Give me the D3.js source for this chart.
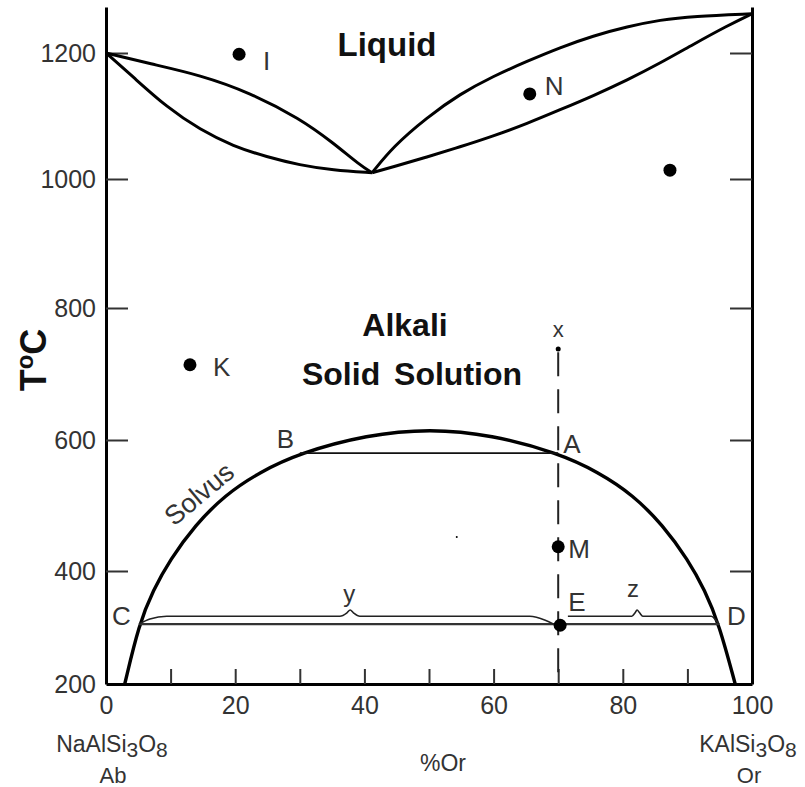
<!DOCTYPE html>
<html><head><meta charset="utf-8">
<script src="https://cdn.jsdelivr.net/npm/d3@7"></script>
<style>
body{margin:0;background:#fff}
svg{display:block}
text{font-family:"Liberation Sans",Arial,Helvetica,sans-serif}
</style>
</head><body>
<svg id="chart" width="805" height="787"></svg>
<script>
// ---------- data ----------
const xTicks = [0,10,20,30,40,50,60,70,80,90,100];
const xTickLabels = [0,20,40,60,80,100];
const yTicks = [200,400,600,800,1000,1200];

const liquidusLeft  = [[0,1200],[6.8,1183],[14.6,1165],[22.3,1137],[30,1096],[35.1,1058],[39.3,1022],[41.2,1010]];
const solidusLeft   = [[0,1200],[4.2,1162],[9.4,1114],[14.6,1078],[19.7,1052],[24.9,1035],[30,1022],[35.1,1014],[41.2,1010]];
const liquidusRight = [[41.2,1010],[44.4,1051],[49.7,1098],[54.8,1135],[59.9,1163],[65.2,1187],[70.3,1209],[75.4,1228],[80.7,1243],[85.8,1254],[90.9,1260],[100,1264]];
const solidusRight  = [[41.2,1010],[44.4,1019],[49.7,1035],[54.8,1051],[59.9,1068],[65.2,1088],[70.3,1110],[75.4,1132],[80.7,1157],[85.8,1184],[90.9,1214],[96.1,1244],[100,1264]];
const solvus = [[2.9,200],[5.1,306],[7.3,366],[9.9,417],[13.8,470],[18.4,516],[23.8,551],[30,580],[40.4,608],[50.2,617],[59.6,608],[70,580],[76.2,551],[81.6,516],[86.2,470],[90.1,417],[92.7,366],[94.9,306],[97.4,200]];
const tieLineBA = [[30,580],[70,580]];
const tieLineCD = [[5.1,306],[94.9,306]];
const braceY = [[5.1,306],[6.8,315],[9.4,320],[36.2,320],[37.3,326],[37.8,331],[38.3,326],[39.3,320],[65.6,320],[68,313],[69.3,306]];
const braceZ = [[71.5,320],[81.4,320],[81.9,326],[82.2,331],[82.6,326],[83.1,320],[93.7,320],[94.4,313],[94.9,306]];
const isopleth = [[70,733],[70,200]];

const pointNames = ["I","N","","K","M","E","x",""];
const pointComp  = [20.6,65.6,87.3,13.0,70,70.3,70,54.3];
const pointTemp  = [1198,1135,1014,714,437,304,738,452];

const curveLabels = ["A","B","C","D","y","z"];
const curveLabelComp = [70,30,5.1,94.9,37.8,82.2];
const curveLabelTemp = [580,580,306,306,331,331];

// ---------- style / layout ----------
const pointRadius = [6.5,6.5,6.5,6.5,6.5,6.5,2.5,1];
const pointLabelOffset = [[24,16],[15,1],[0,0],[23,11],[10,11],[8,-14],[0,-12],[0,0]];
const curveLabelOffset = [[5,0],[-23,-5],[-27,1],[8,1],[-7,-8],[-10,-13]];

const svg = d3.select("#chart");
const x = d3.scaleLinear().domain([0,100]).range([106,752]);
const y = d3.scaleLinear().domain([200,400,600,800,1000,1200,1275]).range([684,571,440,308,179,53,7]);

const line = d3.line().x(d=>x(d[0])).y(d=>y(d[1]));
const smooth = d3.line().x(d=>x(d[0])).y(d=>y(d[1])).curve(d3.curveBasis);
const mono = d3.line().x(d=>x(d[0])).y(d=>y(d[1])).curve(d3.curveMonotoneX);

// axes
const gL = svg.append("g").attr("transform",`translate(${x(0)},0)`)
  .call(d3.axisLeft(y).tickValues(yTicks).tickSize(-22).tickSizeOuter(0).tickPadding(10).tickFormat(d3.format("d")));
const gR = svg.append("g").attr("transform",`translate(${x(100)},0)`)
  .call(d3.axisRight(y).tickValues(yTicks.slice(1)).tickSize(-22).tickSizeOuter(0).tickFormat(""));
const gB = svg.append("g").attr("transform",`translate(0,${y(200)})`)
  .call(d3.axisBottom(x).tickValues(xTicks).tickSize(-15).tickSizeOuter(0).tickPadding(12)
    .tickFormat(d=>xTickLabels.includes(d)?d:""));
[gL,gR,gB].forEach(g=>{
  g.select(".domain").attr("stroke","#000").attr("stroke-width",3);
  g.selectAll(".tick line").attr("stroke","#333").attr("stroke-width",2);
  g.selectAll(".tick text").attr("fill","#333").attr("font-size",25).attr("font-family",null);
});
gB.selectAll(".tick").filter(d=>d===0||d===100).select("line").remove();
gL.selectAll(".tick").filter(d=>d===200).select("line").remove();

// curves
const thick = [liquidusLeft,solidusLeft,liquidusRight,solidusRight];
svg.append("g").selectAll("path").data(thick).join("path")
  .attr("d",smooth).attr("fill","none").attr("stroke","#000").attr("stroke-width",3);
svg.append("path").attr("d",smooth(solvus)).attr("fill","none").attr("stroke","#000").attr("stroke-width",3.4);

svg.append("path").attr("d",line(tieLineBA)).attr("fill","none").attr("stroke","#111").attr("stroke-width",1.6);
svg.append("path").attr("d",line(tieLineCD)).attr("fill","none").attr("stroke","#333").attr("stroke-width",2.2);
[braceY,braceZ].forEach(b=>svg.append("path").attr("d",mono(b)).attr("fill","none").attr("stroke","#222").attr("stroke-width",1.6));

svg.append("path").attr("d",line(isopleth)).attr("fill","none").attr("stroke","#222")
  .attr("stroke-width",2).attr("stroke-dasharray","24,13");

// points
const pts = pointNames.map((n,i)=>({n,cx:pointComp[i],t:pointTemp[i],r:pointRadius[i],o:pointLabelOffset[i]}));
svg.append("g").selectAll("circle").data(pts).join("circle")
  .attr("cx",d=>x(d.cx)).attr("cy",d=>y(d.t)).attr("r",d=>d.r).attr("fill","#000");
svg.append("g").selectAll("text").data(pts.filter(d=>d.n)).join("text")
  .attr("x",d=>x(d.cx)+d.o[0]).attr("y",d=>y(d.t)+d.o[1])
  .attr("text-anchor",d=>d.n==="x"?"middle":"start")
  .attr("font-size",d=>d.n==="x"?22:26).attr("fill","#333").text(d=>d.n);

// curve labels
svg.append("g").selectAll("text").data(curveLabels).join("text")
  .attr("x",(d,i)=>x(curveLabelComp[i])+curveLabelOffset[i][0])
  .attr("y",(d,i)=>y(curveLabelTemp[i])+curveLabelOffset[i][1])
  .attr("font-size",(d)=>(d==="y"||d==="z")?24:26).attr("fill","#333").text(d=>d);

// Solvus label
svg.append("text").attr("transform",`translate(205,501) rotate(-40)`)
  .attr("text-anchor","middle").attr("font-size",27).attr("fill","#333").text("Solvus");

// region labels
svg.append("text").attr("x",387).attr("y",56).attr("text-anchor","middle")
  .attr("font-size",33).attr("font-weight","bold").attr("fill","#111").text("Liquid");
svg.append("text").attr("x",405).attr("y",336).attr("text-anchor","middle")
  .attr("font-size",32).attr("font-weight","bold").attr("fill","#111").text("Alkali");
svg.append("text").attr("x",412).attr("y",385).attr("text-anchor","middle").attr("word-spacing",5)
  .attr("font-size",32).attr("font-weight","bold").attr("fill","#111").text("Solid Solution");

// y-axis title T°C
const tt = svg.append("text").attr("transform","translate(46,360) rotate(-90)")
  .attr("text-anchor","middle").attr("font-size",36).attr("font-weight","bold").attr("fill","#111");
tt.append("tspan").text("T");
tt.append("tspan").attr("dy",-13).attr("font-size",24).text("o");
tt.append("tspan").attr("dy",13).text("C");

// x-axis end-member labels
function formula(parts, cx, by){
  const t = svg.append("text").attr("x",cx).attr("y",by).attr("text-anchor","middle")
    .attr("font-size",23).attr("fill","#333");
  parts.forEach(p=>{
    const s = t.append("tspan").attr("dy",p[1]?5:(p[2]?-5:0)).text(p[0]);
    if(p[1]) s.attr("font-size",21);
  });
}
formula([["NaAlSi",0],["3",1],["O",0,1],["8",1]],112,752);
formula([["KAlSi",0],["3",1],["O",0,1],["8",1]],748,752);
svg.append("text").attr("x",113).attr("y",783).attr("text-anchor","middle").attr("font-size",22).attr("fill","#333").text("Ab");
svg.append("text").attr("x",749).attr("y",783).attr("text-anchor","middle").attr("font-size",22).attr("fill","#333").text("Or");
svg.append("text").attr("x",443).attr("y",771).attr("text-anchor","middle").attr("font-size",23).attr("fill","#333").text("%Or");
</script>
</body></html>
